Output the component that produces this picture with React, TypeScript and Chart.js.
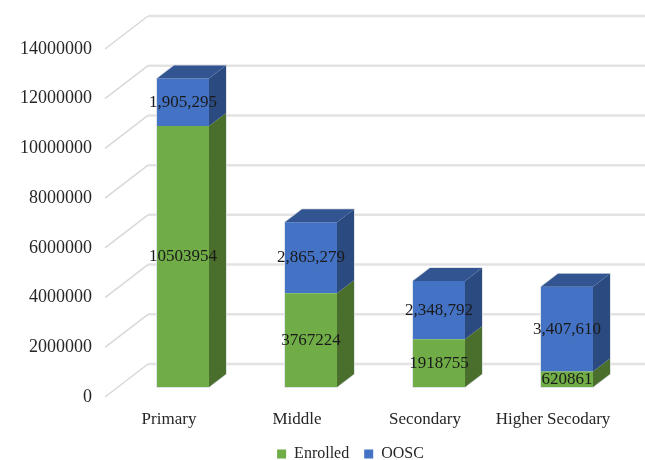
import React, { useEffect, useRef } from "react";
import { Chart, registerables } from "chart.js";

Chart.register(...registerables);

const categories = ["Primary", "Middle", "Secondary", "Higher Secodary"];
const enrolled = [10503954, 3767224, 1918755, 620861];
const oosc = [1905295, 2865279, 2348792, 3407610];
const enrolledLabels = ["10503954", "3767224", "1918755", "620861"];
const ooscLabels = ["1,905,295", "2,865,279", "2,348,792", "3,407,610"];

const FONT = "'Liberation Serif', serif";
const GREEN = "#70ad47";
const BLUE = "#4472c4";
const SIDE_COLORS = ["#4a6f2c", "#2b4a80"];
const TOP_COLOR = "#325591";
const WALL = { dx: 43, dy: -33 };
const BAR_SHIFT = { dx: 14, dy: -10 };
const BAR_DEPTH = { dx: 17, dy: -13 };
const LEGEND_SHIFT = { dx: 42, dy: -6 };

function quad(ctx: CanvasRenderingContext2D, pts: number[][], fill: string) {
  ctx.beginPath();
  pts.forEach(([x, y], i) => (i ? ctx.lineTo(x, y) : ctx.moveTo(x, y)));
  ctx.closePath();
  ctx.fillStyle = fill;
  ctx.fill();
}

// Floor-and-wall grid, plus the shift that moves the flat bars onto the floor.
const box3d = {
  id: "box3d",
  afterLayout(chart: any) {
    const legend = chart.legend;
    legend.left += LEGEND_SHIFT.dx;
    legend.right += LEGEND_SHIFT.dx;
    legend.top += LEGEND_SHIFT.dy;
    legend.bottom += LEGEND_SHIFT.dy;
  },
  beforeDatasetsDraw(chart: any) {
    const { ctx, chartArea, scales } = chart;
    ctx.save();
    for (const tick of scales.y.ticks) {
      const y = scales.y.getPixelForValue(tick.value);
      ctx.strokeStyle = "#d8d8d8";
      ctx.lineWidth = 1.5;
      ctx.beginPath();
      ctx.moveTo(chartArea.left, y);
      ctx.lineTo(chartArea.left + WALL.dx, y + WALL.dy);
      ctx.stroke();
      ctx.strokeStyle = "#e3e3e3";
      ctx.lineWidth = 2.5;
      ctx.beginPath();
      ctx.moveTo(chartArea.left + WALL.dx, y + WALL.dy);
      ctx.lineTo(chartArea.right + WALL.dx, y + WALL.dy);
      ctx.stroke();
    }
    ctx.restore();

    // Soft edge around each column
    const low = chart.getDatasetMeta(0).data;
    const high = chart.getDatasetMeta(1).data;
    ctx.save();
    ctx.translate(BAR_SHIFT.dx, BAR_SHIFT.dy);
    ctx.strokeStyle = "#d5d9e0";
    ctx.lineWidth = 1.5;
    low.forEach((bar: any, i: number) => {
      const l = bar.x - bar.width / 2;
      const r = bar.x + bar.width / 2;
      const t = high[i].y;
      ctx.beginPath();
      ctx.moveTo(l, bar.base);
      ctx.lineTo(l, t);
      ctx.lineTo(l + BAR_DEPTH.dx, t + BAR_DEPTH.dy);
      ctx.lineTo(r + BAR_DEPTH.dx, t + BAR_DEPTH.dy);
      ctx.lineTo(r + BAR_DEPTH.dx, bar.base + BAR_DEPTH.dy);
      ctx.lineTo(r, bar.base);
      ctx.closePath();
      ctx.stroke();
    });
    ctx.restore();
    // stays translated for the bars themselves; undone in afterDatasetsDraw
    ctx.save();
    ctx.translate(BAR_SHIFT.dx, BAR_SHIFT.dy);
  },
  afterDatasetsDraw(chart: any) {
    const { ctx } = chart;
    const { dx, dy } = BAR_DEPTH;
    chart.data.datasets.forEach((_: any, d: number) => {
      chart.getDatasetMeta(d).data.forEach((bar: any) => {
        const r = bar.x + bar.width / 2;
        const l = bar.x - bar.width / 2;
        quad(ctx, [[r, bar.base], [r + dx, bar.base + dy], [r + dx, bar.y + dy], [r, bar.y]], SIDE_COLORS[d]);
        if (d === 1) {
          quad(ctx, [[l, bar.y], [l + dx, bar.y + dy], [r + dx, bar.y + dy], [r, bar.y]], TOP_COLOR);
        }
      });
    });

    // Value labels sit in the middle of each front face
    ctx.fillStyle = "#1a1a1a";
    ctx.font = `17px ${FONT}`;
    ctx.textAlign = "center";
    ctx.textBaseline = "middle";
    const texts = [enrolledLabels, ooscLabels];
    chart.data.datasets.forEach((_: any, d: number) => {
      chart.getDatasetMeta(d).data.forEach((bar: any, i: number) => {
        ctx.fillText(texts[d][i], bar.x, (bar.y + bar.base) / 2);
      });
    });
    ctx.restore();
  },
};

export default function App() {
  const ref = useRef<HTMLCanvasElement>(null);

  useEffect(() => {
    const chart = new Chart(ref.current!, {
      type: "bar",
      data: {
        labels: categories,
        datasets: [
          { label: "Enrolled", data: enrolled, backgroundColor: GREEN, clip: false },
          { label: "OOSC", data: oosc, backgroundColor: BLUE, clip: false },
        ],
      },
      plugins: [box3d],
      options: {
        animation: false,
        responsive: false,
        categoryPercentage: 1,
        barPercentage: 0.406,
        layout: { padding: { left: 0, right: 28, top: 49, bottom: -18 } },
        scales: {
          x: {
            stacked: true,
            grid: { display: false },
            border: { display: false },
            ticks: { color: "#262626", padding: 4, maxRotation: 0, font: { family: FONT, size: 17 } },
            afterFit: (s: any) => { s.height = 40; },
          },
          y: {
            stacked: true,
            min: 0,
            max: 14000000,
            grid: { display: false },
            border: { display: false },
            ticks: {
              stepSize: 2000000,
              color: "#262626",
              padding: 5,
              font: { family: FONT, size: 18 },
              callback: (v: any) => String(v),
            },
            afterFit: (s: any) => { s.width = 105; },
          },
        },
        plugins: {
          tooltip: { enabled: false },
          legend: {
            position: "bottom",
            labels: {
              boxWidth: 9,
              boxHeight: 9,
              padding: 15,
              color: "#262626",
              font: { family: FONT, size: 16 },
            },
          },
        },
      } as any,
    });
    return () => chart.destroy();
  }, []);

  return (
    <canvas
      ref={ref}
      width={645}
      height={460}
      style={{ position: "fixed", left: 0, top: 0, width: 645, height: 460 }}
    />
  );
}
